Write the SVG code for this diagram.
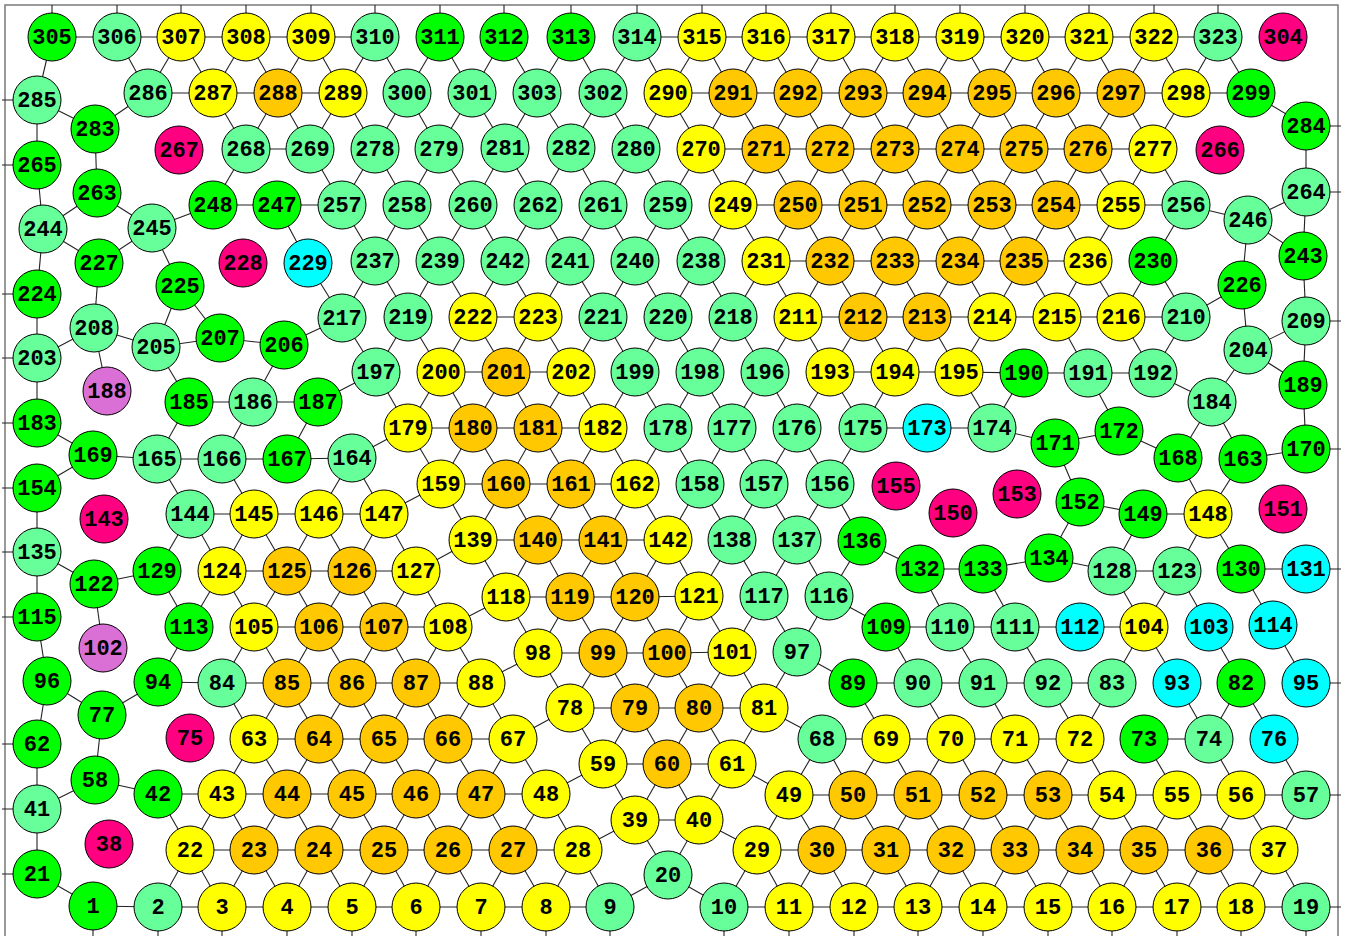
<svg xmlns="http://www.w3.org/2000/svg" width="1345" height="936" viewBox="0 0 1345 936">
<style>
#nodes circle{stroke:#000;stroke-width:1}
.G circle{fill:#00ff00}.L circle{fill:#66ff99}.Y circle{fill:#ffff00}.O circle{fill:#ffc800}.M circle{fill:#ff0080}.C circle{fill:#00ffff}.P circle{fill:#da70d6}
#nodes text{font-family:"Liberation Mono","Courier New",monospace;font-weight:bold;font-size:22px;text-anchor:middle;fill:#000}
#edges path{stroke:#222;stroke-width:1.1;fill:none}
#frame{stroke:#7a7a7a;stroke-width:1.5;fill:none}
</style>
<rect width="1345" height="936" fill="#fff"/>
<path id="frame" d="M5 940V5H1338V940"/>
<g id="edges">
<path d="M52 5L52 37"/><path d="M117 5L117 37"/><path d="M181 5L181 37"/><path d="M246 5L246 37"/><path d="M311 5L311 37"/><path d="M375 5L375 37"/><path d="M440 5L440 37"/><path d="M504 5L504 37"/><path d="M571 5L571 37"/><path d="M637 5L637 37"/><path d="M702 5L702 37"/><path d="M766 5L766 37"/><path d="M831 5L831 37"/><path d="M895 5L895 37"/><path d="M960 5L960 37"/><path d="M1025 5L1025 37"/><path d="M1089 5L1089 37"/><path d="M1154 5L1154 37"/><path d="M1218 5L1218 37"/>
<path d="M2 100L37 100"/><path d="M2 165L37 165"/><path d="M2 294L37 294"/><path d="M2 358L37 358"/><path d="M2 423L37 423"/><path d="M2 488L37 488"/><path d="M2 552L37 552"/><path d="M2 617L37 617"/><path d="M2 744L37 744"/><path d="M2 809L37 809"/><path d="M2 874L37 874"/>
<path d="M1306 126L1341 126"/><path d="M1306 192L1341 192"/><path d="M1306 321L1341 321"/><path d="M1306 449L1341 449"/><path d="M1306 569L1341 569"/><path d="M1306 683L1341 683"/><path d="M1306 795L1341 795"/><path d="M1306 907L1341 907"/>
<path d="M93 906L93 936"/><path d="M158 907L158 936"/><path d="M222 907L222 936"/><path d="M287 907L287 936"/><path d="M352 907L352 936"/><path d="M416 907L416 936"/><path d="M481 907L481 936"/><path d="M546 907L546 936"/><path d="M610 907L610 936"/><path d="M724 907L724 936"/><path d="M789 907L789 936"/><path d="M854 907L854 936"/><path d="M918 907L918 936"/><path d="M983 907L983 936"/><path d="M1048 907L1048 936"/><path d="M1112 907L1112 936"/><path d="M1177 907L1177 936"/><path d="M1241 907L1241 936"/><path d="M1306 907L1306 936"/>
<path d="M52 37L117 37"/><path d="M117 37L181 37"/><path d="M181 37L246 37"/><path d="M246 37L311 37"/><path d="M311 37L375 37"/><path d="M637 37L702 37"/><path d="M702 37L766 37"/><path d="M766 37L831 37"/><path d="M831 37L895 37"/><path d="M895 37L960 37"/><path d="M960 37L1025 37"/><path d="M1025 37L1089 37"/><path d="M1089 37L1154 37"/><path d="M1154 37L1218 37"/>
<path d="M52 37L37 100"/><path d="M117 37L148 93"/><path d="M181 37L148 93"/><path d="M181 37L213 93"/><path d="M246 37L213 93"/><path d="M246 37L278 93"/><path d="M311 37L278 93"/><path d="M311 37L343 93"/><path d="M375 37L343 93"/><path d="M375 37L407 93"/><path d="M440 37L407 93"/><path d="M440 37L472 93"/><path d="M504 37L472 93"/><path d="M504 37L537 93"/><path d="M571 37L537 93"/><path d="M571 37L603 93"/><path d="M637 37L603 93"/><path d="M637 37L668 93"/><path d="M702 37L668 93"/><path d="M702 37L733 93"/><path d="M766 37L733 93"/><path d="M766 37L798 93"/><path d="M831 37L798 93"/><path d="M831 37L863 93"/><path d="M895 37L863 93"/><path d="M895 37L927 93"/><path d="M960 37L927 93"/><path d="M960 37L992 93"/><path d="M1025 37L992 93"/><path d="M1025 37L1056 93"/><path d="M1089 37L1056 93"/><path d="M1089 37L1121 93"/><path d="M1154 37L1121 93"/><path d="M1154 37L1186 93"/><path d="M1218 37L1186 93"/><path d="M1218 37L1251 93"/>
<path d="M148 93L213 93"/><path d="M213 93L278 93"/><path d="M278 93L343 93"/><path d="M668 93L733 93"/><path d="M733 93L798 93"/><path d="M798 93L863 93"/><path d="M863 93L927 93"/><path d="M927 93L992 93"/><path d="M992 93L1056 93"/><path d="M1056 93L1121 93"/><path d="M1121 93L1186 93"/><path d="M1186 93L1251 93"/>
<path d="M37 100L95 129"/><path d="M148 93L95 129"/><path d="M37 100L37 165"/><path d="M95 129L97 193"/><path d="M1251 93L1306 126"/>
<path d="M213 93L246 149"/><path d="M278 93L246 149"/><path d="M278 93L310 149"/><path d="M343 93L310 149"/><path d="M343 93L375 149"/><path d="M407 93L375 149"/><path d="M407 93L439 149"/><path d="M472 93L439 149"/><path d="M472 93L505 148"/><path d="M537 93L505 148"/><path d="M537 93L571 148"/><path d="M603 93L571 148"/><path d="M603 93L636 149"/><path d="M668 93L636 149"/><path d="M668 93L701 149"/><path d="M733 93L701 149"/><path d="M733 93L766 149"/><path d="M798 93L766 149"/><path d="M798 93L830 149"/><path d="M863 93L830 149"/><path d="M863 93L895 149"/><path d="M927 93L895 149"/><path d="M927 93L960 149"/><path d="M992 93L960 149"/><path d="M992 93L1024 149"/><path d="M1056 93L1024 149"/><path d="M1056 93L1088 149"/><path d="M1121 93L1088 149"/><path d="M1121 93L1153 149"/><path d="M1186 93L1153 149"/>
<path d="M246 149L310 149"/><path d="M701 149L766 149"/><path d="M766 149L830 149"/><path d="M830 149L895 149"/><path d="M895 149L960 149"/><path d="M960 149L1024 149"/><path d="M1024 149L1088 149"/><path d="M1088 149L1153 149"/>
<path d="M246 149L213 205"/><path d="M310 149L342 205"/><path d="M375 149L342 205"/><path d="M375 149L407 205"/><path d="M439 149L407 205"/><path d="M439 149L473 205"/><path d="M505 148L473 205"/><path d="M505 148L538 205"/><path d="M571 148L538 205"/><path d="M571 148L603 205"/><path d="M636 149L603 205"/><path d="M636 149L668 205"/><path d="M701 149L668 205"/><path d="M701 149L733 205"/><path d="M766 149L733 205"/><path d="M766 149L798 205"/><path d="M830 149L798 205"/><path d="M830 149L863 205"/><path d="M895 149L863 205"/><path d="M895 149L927 205"/><path d="M960 149L927 205"/><path d="M960 149L992 205"/><path d="M1024 149L992 205"/><path d="M1024 149L1056 205"/><path d="M1088 149L1056 205"/><path d="M1088 149L1121 205"/><path d="M1153 149L1121 205"/><path d="M1153 149L1186 205"/>
<path d="M37 165L43 229"/><path d="M97 193L43 229"/><path d="M97 193L152 228"/><path d="M152 228L213 205"/><path d="M43 229L99 263"/><path d="M43 229L37 294"/><path d="M152 228L99 263"/><path d="M152 228L180 286"/><path d="M99 263L94 328"/><path d="M37 294L37 358"/>
<path d="M213 205L277 205"/><path d="M277 205L342 205"/><path d="M733 205L798 205"/><path d="M798 205L863 205"/><path d="M863 205L927 205"/><path d="M927 205L992 205"/><path d="M992 205L1056 205"/><path d="M1056 205L1121 205"/><path d="M1121 205L1186 205"/><path d="M277 205L308 263"/>
<path d="M1306 126L1306 192"/><path d="M1186 205L1248 220"/><path d="M1306 192L1248 220"/><path d="M1248 220L1303 256"/><path d="M1306 192L1303 256"/><path d="M1248 220L1242 285"/><path d="M1303 256L1306 321"/><path d="M1242 285L1186 317"/><path d="M1242 285L1248 350"/>
<path d="M342 205L375 261"/><path d="M407 205L375 261"/><path d="M407 205L440 261"/><path d="M473 205L440 261"/><path d="M473 205L505 261"/><path d="M538 205L505 261"/><path d="M538 205L570 261"/><path d="M603 205L570 261"/><path d="M603 205L635 261"/><path d="M668 205L635 261"/><path d="M668 205L701 261"/><path d="M733 205L701 261"/><path d="M733 205L766 261"/><path d="M798 205L766 261"/><path d="M798 205L830 261"/><path d="M863 205L830 261"/><path d="M863 205L895 261"/><path d="M927 205L895 261"/><path d="M927 205L960 261"/><path d="M992 205L960 261"/><path d="M992 205L1024 261"/><path d="M1056 205L1024 261"/><path d="M1056 205L1088 261"/><path d="M1121 205L1088 261"/><path d="M1186 205L1153 261"/>
<path d="M766 261L830 261"/><path d="M830 261L895 261"/><path d="M895 261L960 261"/><path d="M960 261L1024 261"/><path d="M1024 261L1088 261"/>
<path d="M308 263L342 318"/><path d="M375 261L342 318"/><path d="M375 261L408 317"/><path d="M440 261L408 317"/><path d="M440 261L473 317"/><path d="M505 261L473 317"/><path d="M505 261L538 317"/><path d="M570 261L538 317"/><path d="M570 261L603 317"/><path d="M635 261L603 317"/><path d="M635 261L668 317"/><path d="M701 261L668 317"/><path d="M701 261L733 317"/><path d="M766 261L733 317"/><path d="M766 261L798 317"/><path d="M830 261L798 317"/><path d="M830 261L863 317"/><path d="M895 261L863 317"/><path d="M895 261L927 317"/><path d="M960 261L927 317"/><path d="M960 261L992 317"/><path d="M1024 261L992 317"/><path d="M1024 261L1057 317"/><path d="M1088 261L1057 317"/><path d="M1088 261L1121 317"/><path d="M1153 261L1121 317"/><path d="M1153 261L1186 317"/>
<path d="M473 317L538 317"/><path d="M798 317L863 317"/><path d="M863 317L927 317"/><path d="M927 317L992 317"/><path d="M992 317L1057 317"/><path d="M1057 317L1121 317"/><path d="M1121 317L1186 317"/>
<path d="M180 286L156 347"/><path d="M180 286L220 338"/><path d="M94 328L37 358"/><path d="M94 328L156 347"/><path d="M94 328L107 391"/><path d="M156 347L220 338"/><path d="M220 338L284 345"/><path d="M284 345L342 318"/><path d="M156 347L189 402"/><path d="M284 345L253 402"/><path d="M37 358L37 423"/><path d="M37 423L93 455"/><path d="M93 455L37 488"/><path d="M93 455L157 459"/>
<path d="M1306 321L1248 350"/><path d="M1248 350L1303 385"/><path d="M1306 321L1303 385"/><path d="M1248 350L1212 402"/><path d="M1303 385L1306 449"/><path d="M1186 317L1153 373"/><path d="M1057 317L1088 373"/><path d="M1121 317L1153 373"/><path d="M1024 373L1088 373"/><path d="M1088 373L1153 373"/><path d="M1153 373L1212 402"/><path d="M1024 373L992 428"/><path d="M992 428L1055 443"/><path d="M1088 373L1119 431"/><path d="M1055 443L1119 431"/><path d="M1119 431L1178 458"/><path d="M1212 402L1178 458"/><path d="M1212 402L1243 459"/><path d="M1243 459L1306 449"/><path d="M1055 443L1080 502"/><path d="M1178 458L1208 514"/><path d="M1243 459L1208 514"/><path d="M1080 502L1143 514"/><path d="M1143 514L1208 514"/><path d="M1080 502L1049 558"/><path d="M1143 514L1112 571"/><path d="M1208 514L1177 571"/><path d="M1208 514L1241 569"/><path d="M1049 558L1112 571"/><path d="M1112 571L1177 571"/><path d="M1241 569L1306 569"/><path d="M1112 571L1144 627"/><path d="M1177 571L1144 627"/><path d="M1177 571L1209 627"/><path d="M1241 569L1273 625"/><path d="M983 569L1049 558"/>
<path d="M342 318L376 372"/><path d="M408 317L376 372"/><path d="M408 317L441 372"/><path d="M473 317L441 372"/><path d="M473 317L506 372"/><path d="M538 317L506 372"/><path d="M538 317L571 372"/><path d="M603 317L571 372"/><path d="M603 317L635 372"/><path d="M668 317L635 372"/><path d="M668 317L700 372"/><path d="M733 317L700 372"/><path d="M733 317L765 372"/><path d="M798 317L765 372"/><path d="M798 317L830 372"/><path d="M863 317L830 372"/><path d="M863 317L895 372"/><path d="M927 317L895 372"/><path d="M927 317L959 372"/><path d="M992 317L959 372"/>
<path d="M441 372L506 372"/><path d="M506 372L571 372"/><path d="M830 372L895 372"/><path d="M895 372L959 372"/><path d="M959 372L1024 373"/><path d="M318 402L376 372"/>
<path d="M376 372L408 428"/><path d="M441 372L408 428"/><path d="M441 372L473 428"/><path d="M506 372L473 428"/><path d="M506 372L538 428"/><path d="M571 372L538 428"/><path d="M571 372L603 428"/><path d="M635 372L603 428"/><path d="M635 372L668 428"/><path d="M700 372L668 428"/><path d="M700 372L732 428"/><path d="M765 372L732 428"/><path d="M765 372L797 428"/><path d="M830 372L797 428"/><path d="M830 372L863 428"/><path d="M895 372L863 428"/><path d="M959 372L992 428"/>
<path d="M408 428L473 428"/><path d="M473 428L538 428"/><path d="M538 428L603 428"/><path d="M863 428L927 428"/><path d="M927 428L992 428"/><path d="M189 402L253 402"/><path d="M253 402L318 402"/><path d="M189 402L157 459"/><path d="M253 402L222 459"/><path d="M318 402L287 459"/><path d="M157 459L222 459"/><path d="M222 459L287 459"/><path d="M287 459L352 458"/>
<path d="M408 428L352 458"/><path d="M408 428L441 484"/><path d="M473 428L441 484"/><path d="M473 428L506 484"/><path d="M538 428L506 484"/><path d="M538 428L571 484"/><path d="M603 428L571 484"/><path d="M603 428L635 484"/><path d="M668 428L635 484"/><path d="M668 428L700 484"/><path d="M732 428L700 484"/><path d="M732 428L764 484"/><path d="M797 428L764 484"/><path d="M797 428L830 484"/><path d="M863 428L830 484"/>
<path d="M441 484L506 484"/><path d="M506 484L571 484"/><path d="M571 484L635 484"/>
<path d="M157 459L190 514"/><path d="M222 459L254 514"/><path d="M352 458L319 514"/><path d="M352 458L384 514"/><path d="M441 484L384 514"/><path d="M441 484L473 540"/><path d="M506 484L473 540"/><path d="M506 484L538 540"/><path d="M571 484L538 540"/><path d="M571 484L603 540"/><path d="M635 484L603 540"/><path d="M635 484L668 540"/><path d="M700 484L668 540"/><path d="M700 484L732 540"/><path d="M764 484L732 540"/><path d="M764 484L797 540"/><path d="M830 484L797 540"/><path d="M830 484L862 541"/>
<path d="M190 514L254 514"/><path d="M254 514L319 514"/><path d="M319 514L384 514"/><path d="M37 488L37 552"/><path d="M37 552L94 584"/><path d="M37 552L37 617"/><path d="M190 514L157 571"/><path d="M190 514L222 571"/><path d="M254 514L222 571"/><path d="M254 514L287 571"/><path d="M319 514L287 571"/><path d="M319 514L352 571"/><path d="M384 514L352 571"/><path d="M384 514L416 571"/><path d="M222 571L287 571"/><path d="M287 571L352 571"/><path d="M352 571L416 571"/><path d="M157 571L94 584"/><path d="M416 571L473 540"/><path d="M473 540L538 540"/><path d="M538 540L603 540"/><path d="M603 540L668 540"/><path d="M862 541L920 569"/><path d="M920 569L983 569"/>
<path d="M157 571L189 627"/><path d="M222 571L189 627"/><path d="M222 571L254 627"/><path d="M287 571L254 627"/><path d="M287 571L319 627"/><path d="M352 571L319 627"/><path d="M352 571L384 627"/><path d="M416 571L384 627"/><path d="M416 571L448 627"/><path d="M473 540L506 597"/><path d="M538 540L506 597"/><path d="M538 540L570 597"/><path d="M603 540L570 597"/><path d="M603 540L635 597"/><path d="M668 540L635 597"/><path d="M668 540L699 596"/><path d="M732 540L699 596"/><path d="M732 540L764 596"/><path d="M797 540L764 596"/><path d="M797 540L829 596"/><path d="M862 541L829 596"/><path d="M920 569L950 627"/><path d="M983 569L1015 627"/><path d="M94 584L103 648"/>
<path d="M254 627L319 627"/><path d="M319 627L384 627"/><path d="M384 627L448 627"/><path d="M448 627L506 597"/><path d="M506 597L570 597"/><path d="M570 597L635 597"/><path d="M635 597L699 596"/><path d="M886 627L950 627"/><path d="M950 627L1015 627"/><path d="M1015 627L1080 627"/><path d="M1080 627L1144 627"/><path d="M829 596L886 627"/>
<path d="M37 617L47 681"/><path d="M47 681L102 715"/><path d="M47 681L37 744"/><path d="M102 715L158 682"/><path d="M102 715L95 780"/><path d="M158 682L189 627"/><path d="M158 682L222 683"/><path d="M222 683L254 627"/><path d="M287 683L254 627"/><path d="M287 683L319 627"/><path d="M352 683L319 627"/><path d="M352 683L384 627"/><path d="M416 683L384 627"/><path d="M416 683L448 627"/><path d="M481 683L448 627"/><path d="M481 683L538 653"/><path d="M506 597L538 653"/><path d="M570 597L538 653"/><path d="M570 597L603 653"/><path d="M635 597L603 653"/><path d="M635 597L667 653"/><path d="M699 596L667 653"/><path d="M699 596L732 652"/><path d="M764 596L732 652"/><path d="M764 596L797 652"/><path d="M829 596L797 652"/><path d="M886 627L918 683"/><path d="M950 627L983 683"/><path d="M1015 627L1048 683"/><path d="M1144 627L1112 683"/><path d="M1144 627L1177 683"/><path d="M1209 627L1241 683"/><path d="M1273 625L1306 683"/>
<path d="M222 683L287 683"/><path d="M287 683L352 683"/><path d="M352 683L416 683"/><path d="M416 683L481 683"/><path d="M538 653L603 653"/><path d="M603 653L667 653"/><path d="M667 653L732 652"/><path d="M853 683L918 683"/><path d="M918 683L983 683"/><path d="M983 683L1048 683"/><path d="M1048 683L1112 683"/><path d="M797 652L853 683"/>
<path d="M222 683L254 739"/><path d="M287 683L254 739"/><path d="M287 683L319 739"/><path d="M352 683L319 739"/><path d="M352 683L384 739"/><path d="M416 683L384 739"/><path d="M416 683L448 739"/><path d="M481 683L448 739"/><path d="M481 683L513 739"/><path d="M538 653L570 708"/><path d="M603 653L570 708"/><path d="M603 653L635 708"/><path d="M667 653L635 708"/><path d="M667 653L699 708"/><path d="M732 652L699 708"/><path d="M732 652L764 708"/><path d="M797 652L764 708"/><path d="M853 683L886 739"/><path d="M918 683L951 739"/><path d="M983 683L1015 739"/><path d="M1048 683L1080 739"/><path d="M1112 683L1080 739"/><path d="M1177 683L1209 739"/><path d="M1241 683L1209 739"/><path d="M1241 683L1274 739"/>
<path d="M254 739L319 739"/><path d="M319 739L384 739"/><path d="M384 739L448 739"/><path d="M448 739L513 739"/><path d="M513 739L570 708"/><path d="M570 708L635 708"/><path d="M635 708L699 708"/><path d="M699 708L764 708"/><path d="M764 708L822 739"/><path d="M822 739L886 739"/><path d="M886 739L951 739"/><path d="M951 739L1015 739"/><path d="M1015 739L1080 739"/><path d="M1144 739L1209 739"/><path d="M37 744L37 809"/><path d="M95 780L37 809"/><path d="M95 780L158 794"/>
<path d="M254 739L222 794"/><path d="M254 739L287 794"/><path d="M319 739L287 794"/><path d="M319 739L352 794"/><path d="M384 739L352 794"/><path d="M384 739L416 794"/><path d="M448 739L416 794"/><path d="M448 739L481 794"/><path d="M513 739L481 794"/><path d="M513 739L546 794"/><path d="M570 708L603 764"/><path d="M635 708L603 764"/><path d="M635 708L667 764"/><path d="M699 708L667 764"/><path d="M699 708L732 764"/><path d="M764 708L732 764"/><path d="M822 739L789 795"/><path d="M822 739L853 795"/><path d="M886 739L853 795"/><path d="M886 739L918 795"/><path d="M951 739L918 795"/><path d="M951 739L983 795"/><path d="M1015 739L983 795"/><path d="M1015 739L1048 795"/><path d="M1080 739L1048 795"/><path d="M1080 739L1112 795"/><path d="M1144 739L1177 795"/><path d="M1209 739L1241 795"/><path d="M1274 739L1306 795"/>
<path d="M158 794L222 794"/><path d="M222 794L287 794"/><path d="M287 794L352 794"/><path d="M352 794L416 794"/><path d="M416 794L481 794"/><path d="M481 794L546 794"/><path d="M546 794L603 764"/><path d="M603 764L667 764"/><path d="M667 764L732 764"/><path d="M732 764L789 795"/><path d="M789 795L853 795"/><path d="M853 795L918 795"/><path d="M918 795L983 795"/><path d="M983 795L1048 795"/><path d="M1048 795L1112 795"/><path d="M1112 795L1177 795"/><path d="M1177 795L1241 795"/><path d="M1241 795L1306 795"/>
<path d="M37 809L37 874"/><path d="M158 794L190 850"/><path d="M222 794L190 850"/><path d="M222 794L254 850"/><path d="M287 794L254 850"/><path d="M287 794L319 850"/><path d="M352 794L319 850"/><path d="M352 794L384 850"/><path d="M416 794L384 850"/><path d="M416 794L448 850"/><path d="M481 794L448 850"/><path d="M481 794L513 850"/><path d="M546 794L513 850"/><path d="M546 794L578 850"/><path d="M603 764L635 820"/><path d="M667 764L635 820"/><path d="M667 764L699 820"/><path d="M732 764L699 820"/><path d="M789 795L757 850"/><path d="M789 795L822 850"/><path d="M853 795L822 850"/><path d="M853 795L886 850"/><path d="M918 795L886 850"/><path d="M918 795L951 850"/><path d="M983 795L951 850"/><path d="M983 795L1015 850"/><path d="M1048 795L1015 850"/><path d="M1048 795L1080 850"/><path d="M1112 795L1080 850"/><path d="M1112 795L1144 850"/><path d="M1177 795L1144 850"/><path d="M1177 795L1209 850"/><path d="M1241 795L1209 850"/><path d="M1241 795L1274 850"/><path d="M1306 795L1274 850"/>
<path d="M190 850L254 850"/><path d="M254 850L319 850"/><path d="M319 850L384 850"/><path d="M384 850L448 850"/><path d="M448 850L513 850"/><path d="M513 850L578 850"/><path d="M578 850L635 820"/><path d="M635 820L699 820"/><path d="M699 820L757 850"/><path d="M757 850L822 850"/><path d="M822 850L886 850"/><path d="M886 850L951 850"/><path d="M951 850L1015 850"/><path d="M1015 850L1080 850"/><path d="M1080 850L1144 850"/><path d="M1144 850L1209 850"/><path d="M1209 850L1274 850"/>
<path d="M37 874L93 906"/><path d="M190 850L158 907"/><path d="M190 850L222 907"/><path d="M254 850L222 907"/><path d="M254 850L287 907"/><path d="M319 850L287 907"/><path d="M319 850L352 907"/><path d="M384 850L352 907"/><path d="M384 850L416 907"/><path d="M448 850L416 907"/><path d="M448 850L481 907"/><path d="M513 850L481 907"/><path d="M513 850L546 907"/><path d="M578 850L546 907"/><path d="M578 850L610 907"/><path d="M635 820L668 875"/><path d="M699 820L668 875"/><path d="M668 875L610 907"/><path d="M668 875L724 907"/><path d="M757 850L724 907"/><path d="M757 850L789 907"/><path d="M822 850L789 907"/><path d="M822 850L854 907"/><path d="M886 850L854 907"/><path d="M886 850L918 907"/><path d="M951 850L918 907"/><path d="M951 850L983 907"/><path d="M1015 850L983 907"/><path d="M1015 850L1048 907"/><path d="M1080 850L1048 907"/><path d="M1080 850L1112 907"/><path d="M1144 850L1112 907"/><path d="M1144 850L1177 907"/><path d="M1209 850L1177 907"/><path d="M1209 850L1241 907"/><path d="M1274 850L1241 907"/><path d="M1274 850L1306 907"/>
<path d="M93 906L158 907"/><path d="M158 907L222 907"/><path d="M222 907L287 907"/><path d="M287 907L352 907"/><path d="M352 907L416 907"/><path d="M416 907L481 907"/><path d="M481 907L546 907"/><path d="M546 907L610 907"/><path d="M724 907L789 907"/><path d="M789 907L854 907"/><path d="M854 907L918 907"/><path d="M918 907L983 907"/><path d="M983 907L1048 907"/><path d="M1048 907L1112 907"/><path d="M1112 907L1177 907"/><path d="M1177 907L1241 907"/><path d="M1241 907L1306 907"/>
</g>
<g id="nodes">
<g id="n1" class="G" transform="translate(93 906)"><circle r="24"/><text y="7">1</text></g>
<g id="n2" class="L" transform="translate(158 907)"><circle r="24"/><text y="7">2</text></g>
<g id="n3" class="Y" transform="translate(222 907)"><circle r="24"/><text y="7">3</text></g>
<g id="n4" class="Y" transform="translate(287 907)"><circle r="24"/><text y="7">4</text></g>
<g id="n5" class="Y" transform="translate(352 907)"><circle r="24"/><text y="7">5</text></g>
<g id="n6" class="Y" transform="translate(416 907)"><circle r="24"/><text y="7">6</text></g>
<g id="n7" class="Y" transform="translate(481 907)"><circle r="24"/><text y="7">7</text></g>
<g id="n8" class="Y" transform="translate(546 907)"><circle r="24"/><text y="7">8</text></g>
<g id="n9" class="L" transform="translate(610 907)"><circle r="24"/><text y="7">9</text></g>
<g id="n10" class="L" transform="translate(724 907)"><circle r="24"/><text y="7">10</text></g>
<g id="n11" class="Y" transform="translate(789 907)"><circle r="24"/><text y="7">11</text></g>
<g id="n12" class="Y" transform="translate(854 907)"><circle r="24"/><text y="7">12</text></g>
<g id="n13" class="Y" transform="translate(918 907)"><circle r="24"/><text y="7">13</text></g>
<g id="n14" class="Y" transform="translate(983 907)"><circle r="24"/><text y="7">14</text></g>
<g id="n15" class="Y" transform="translate(1048 907)"><circle r="24"/><text y="7">15</text></g>
<g id="n16" class="Y" transform="translate(1112 907)"><circle r="24"/><text y="7">16</text></g>
<g id="n17" class="Y" transform="translate(1177 907)"><circle r="24"/><text y="7">17</text></g>
<g id="n18" class="Y" transform="translate(1241 907)"><circle r="24"/><text y="7">18</text></g>
<g id="n19" class="L" transform="translate(1306 907)"><circle r="24"/><text y="7">19</text></g>
<g id="n20" class="L" transform="translate(668 875)"><circle r="24"/><text y="7">20</text></g>
<g id="n21" class="G" transform="translate(37 874)"><circle r="24"/><text y="7">21</text></g>
<g id="n22" class="Y" transform="translate(190 850)"><circle r="24"/><text y="7">22</text></g>
<g id="n23" class="O" transform="translate(254 850)"><circle r="24"/><text y="7">23</text></g>
<g id="n24" class="O" transform="translate(319 850)"><circle r="24"/><text y="7">24</text></g>
<g id="n25" class="O" transform="translate(384 850)"><circle r="24"/><text y="7">25</text></g>
<g id="n26" class="O" transform="translate(448 850)"><circle r="24"/><text y="7">26</text></g>
<g id="n27" class="O" transform="translate(513 850)"><circle r="24"/><text y="7">27</text></g>
<g id="n28" class="Y" transform="translate(578 850)"><circle r="24"/><text y="7">28</text></g>
<g id="n29" class="Y" transform="translate(757 850)"><circle r="24"/><text y="7">29</text></g>
<g id="n30" class="O" transform="translate(822 850)"><circle r="24"/><text y="7">30</text></g>
<g id="n31" class="O" transform="translate(886 850)"><circle r="24"/><text y="7">31</text></g>
<g id="n32" class="O" transform="translate(951 850)"><circle r="24"/><text y="7">32</text></g>
<g id="n33" class="O" transform="translate(1015 850)"><circle r="24"/><text y="7">33</text></g>
<g id="n34" class="O" transform="translate(1080 850)"><circle r="24"/><text y="7">34</text></g>
<g id="n35" class="O" transform="translate(1144 850)"><circle r="24"/><text y="7">35</text></g>
<g id="n36" class="O" transform="translate(1209 850)"><circle r="24"/><text y="7">36</text></g>
<g id="n37" class="Y" transform="translate(1274 850)"><circle r="24"/><text y="7">37</text></g>
<g id="n38" class="M" transform="translate(109 844)"><circle r="24"/><text y="7">38</text></g>
<g id="n39" class="Y" transform="translate(635 820)"><circle r="24"/><text y="7">39</text></g>
<g id="n40" class="Y" transform="translate(699 820)"><circle r="24"/><text y="7">40</text></g>
<g id="n41" class="L" transform="translate(37 809)"><circle r="24"/><text y="7">41</text></g>
<g id="n42" class="G" transform="translate(158 794)"><circle r="24"/><text y="7">42</text></g>
<g id="n43" class="Y" transform="translate(222 794)"><circle r="24"/><text y="7">43</text></g>
<g id="n44" class="O" transform="translate(287 794)"><circle r="24"/><text y="7">44</text></g>
<g id="n45" class="O" transform="translate(352 794)"><circle r="24"/><text y="7">45</text></g>
<g id="n46" class="O" transform="translate(416 794)"><circle r="24"/><text y="7">46</text></g>
<g id="n47" class="O" transform="translate(481 794)"><circle r="24"/><text y="7">47</text></g>
<g id="n48" class="Y" transform="translate(546 794)"><circle r="24"/><text y="7">48</text></g>
<g id="n49" class="Y" transform="translate(789 795)"><circle r="24"/><text y="7">49</text></g>
<g id="n50" class="O" transform="translate(853 795)"><circle r="24"/><text y="7">50</text></g>
<g id="n51" class="O" transform="translate(918 795)"><circle r="24"/><text y="7">51</text></g>
<g id="n52" class="O" transform="translate(983 795)"><circle r="24"/><text y="7">52</text></g>
<g id="n53" class="O" transform="translate(1048 795)"><circle r="24"/><text y="7">53</text></g>
<g id="n54" class="Y" transform="translate(1112 795)"><circle r="24"/><text y="7">54</text></g>
<g id="n55" class="Y" transform="translate(1177 795)"><circle r="24"/><text y="7">55</text></g>
<g id="n56" class="Y" transform="translate(1241 795)"><circle r="24"/><text y="7">56</text></g>
<g id="n57" class="L" transform="translate(1306 795)"><circle r="24"/><text y="7">57</text></g>
<g id="n58" class="G" transform="translate(95 780)"><circle r="24"/><text y="7">58</text></g>
<g id="n59" class="Y" transform="translate(603 764)"><circle r="24"/><text y="7">59</text></g>
<g id="n60" class="O" transform="translate(667 764)"><circle r="24"/><text y="7">60</text></g>
<g id="n61" class="Y" transform="translate(732 764)"><circle r="24"/><text y="7">61</text></g>
<g id="n62" class="G" transform="translate(37 744)"><circle r="24"/><text y="7">62</text></g>
<g id="n63" class="Y" transform="translate(254 739)"><circle r="24"/><text y="7">63</text></g>
<g id="n64" class="O" transform="translate(319 739)"><circle r="24"/><text y="7">64</text></g>
<g id="n65" class="O" transform="translate(384 739)"><circle r="24"/><text y="7">65</text></g>
<g id="n66" class="O" transform="translate(448 739)"><circle r="24"/><text y="7">66</text></g>
<g id="n67" class="Y" transform="translate(513 739)"><circle r="24"/><text y="7">67</text></g>
<g id="n68" class="L" transform="translate(822 739)"><circle r="24"/><text y="7">68</text></g>
<g id="n69" class="Y" transform="translate(886 739)"><circle r="24"/><text y="7">69</text></g>
<g id="n70" class="Y" transform="translate(951 739)"><circle r="24"/><text y="7">70</text></g>
<g id="n71" class="Y" transform="translate(1015 739)"><circle r="24"/><text y="7">71</text></g>
<g id="n72" class="Y" transform="translate(1080 739)"><circle r="24"/><text y="7">72</text></g>
<g id="n73" class="G" transform="translate(1144 739)"><circle r="24"/><text y="7">73</text></g>
<g id="n74" class="L" transform="translate(1209 739)"><circle r="24"/><text y="7">74</text></g>
<g id="n75" class="M" transform="translate(190 738)"><circle r="24"/><text y="7">75</text></g>
<g id="n76" class="C" transform="translate(1274 739)"><circle r="24"/><text y="7">76</text></g>
<g id="n77" class="G" transform="translate(102 715)"><circle r="24"/><text y="7">77</text></g>
<g id="n78" class="Y" transform="translate(570 708)"><circle r="24"/><text y="7">78</text></g>
<g id="n79" class="O" transform="translate(635 708)"><circle r="24"/><text y="7">79</text></g>
<g id="n80" class="O" transform="translate(699 708)"><circle r="24"/><text y="7">80</text></g>
<g id="n81" class="Y" transform="translate(764 708)"><circle r="24"/><text y="7">81</text></g>
<g id="n82" class="G" transform="translate(1241 683)"><circle r="24"/><text y="7">82</text></g>
<g id="n83" class="L" transform="translate(1112 683)"><circle r="24"/><text y="7">83</text></g>
<g id="n84" class="L" transform="translate(222 683)"><circle r="24"/><text y="7">84</text></g>
<g id="n85" class="O" transform="translate(287 683)"><circle r="24"/><text y="7">85</text></g>
<g id="n86" class="O" transform="translate(352 683)"><circle r="24"/><text y="7">86</text></g>
<g id="n87" class="O" transform="translate(416 683)"><circle r="24"/><text y="7">87</text></g>
<g id="n88" class="Y" transform="translate(481 683)"><circle r="24"/><text y="7">88</text></g>
<g id="n89" class="G" transform="translate(853 683)"><circle r="24"/><text y="7">89</text></g>
<g id="n90" class="L" transform="translate(918 683)"><circle r="24"/><text y="7">90</text></g>
<g id="n91" class="L" transform="translate(983 683)"><circle r="24"/><text y="7">91</text></g>
<g id="n92" class="L" transform="translate(1048 683)"><circle r="24"/><text y="7">92</text></g>
<g id="n93" class="C" transform="translate(1177 683)"><circle r="24"/><text y="7">93</text></g>
<g id="n94" class="G" transform="translate(158 682)"><circle r="24"/><text y="7">94</text></g>
<g id="n95" class="C" transform="translate(1306 683)"><circle r="24"/><text y="7">95</text></g>
<g id="n96" class="G" transform="translate(47 681)"><circle r="24"/><text y="7">96</text></g>
<g id="n97" class="L" transform="translate(797 652)"><circle r="24"/><text y="7">97</text></g>
<g id="n98" class="Y" transform="translate(538 653)"><circle r="24"/><text y="7">98</text></g>
<g id="n99" class="O" transform="translate(603 653)"><circle r="24"/><text y="7">99</text></g>
<g id="n100" class="O" transform="translate(667 653)"><circle r="24"/><text y="7">100</text></g>
<g id="n101" class="Y" transform="translate(732 652)"><circle r="24"/><text y="7">101</text></g>
<g id="n102" class="P" transform="translate(103 648)"><circle r="24"/><text y="7">102</text></g>
<g id="n103" class="C" transform="translate(1209 627)"><circle r="24"/><text y="7">103</text></g>
<g id="n104" class="Y" transform="translate(1144 627)"><circle r="24"/><text y="7">104</text></g>
<g id="n105" class="Y" transform="translate(254 627)"><circle r="24"/><text y="7">105</text></g>
<g id="n106" class="O" transform="translate(319 627)"><circle r="24"/><text y="7">106</text></g>
<g id="n107" class="O" transform="translate(384 627)"><circle r="24"/><text y="7">107</text></g>
<g id="n108" class="Y" transform="translate(448 627)"><circle r="24"/><text y="7">108</text></g>
<g id="n109" class="G" transform="translate(886 627)"><circle r="24"/><text y="7">109</text></g>
<g id="n110" class="L" transform="translate(950 627)"><circle r="24"/><text y="7">110</text></g>
<g id="n111" class="L" transform="translate(1015 627)"><circle r="24"/><text y="7">111</text></g>
<g id="n112" class="C" transform="translate(1080 627)"><circle r="24"/><text y="7">112</text></g>
<g id="n113" class="G" transform="translate(189 627)"><circle r="24"/><text y="7">113</text></g>
<g id="n114" class="C" transform="translate(1273 625)"><circle r="24"/><text y="7">114</text></g>
<g id="n115" class="G" transform="translate(37 617)"><circle r="24"/><text y="7">115</text></g>
<g id="n116" class="L" transform="translate(829 596)"><circle r="24"/><text y="7">116</text></g>
<g id="n117" class="L" transform="translate(764 596)"><circle r="24"/><text y="7">117</text></g>
<g id="n118" class="Y" transform="translate(506 597)"><circle r="24"/><text y="7">118</text></g>
<g id="n119" class="O" transform="translate(570 597)"><circle r="24"/><text y="7">119</text></g>
<g id="n120" class="O" transform="translate(635 597)"><circle r="24"/><text y="7">120</text></g>
<g id="n121" class="Y" transform="translate(699 596)"><circle r="24"/><text y="7">121</text></g>
<g id="n122" class="G" transform="translate(94 584)"><circle r="24"/><text y="7">122</text></g>
<g id="n123" class="L" transform="translate(1177 571)"><circle r="24"/><text y="7">123</text></g>
<g id="n124" class="Y" transform="translate(222 571)"><circle r="24"/><text y="7">124</text></g>
<g id="n125" class="O" transform="translate(287 571)"><circle r="24"/><text y="7">125</text></g>
<g id="n126" class="O" transform="translate(352 571)"><circle r="24"/><text y="7">126</text></g>
<g id="n127" class="Y" transform="translate(416 571)"><circle r="24"/><text y="7">127</text></g>
<g id="n128" class="L" transform="translate(1112 571)"><circle r="24"/><text y="7">128</text></g>
<g id="n129" class="G" transform="translate(157 571)"><circle r="24"/><text y="7">129</text></g>
<g id="n130" class="G" transform="translate(1241 569)"><circle r="24"/><text y="7">130</text></g>
<g id="n131" class="C" transform="translate(1306 569)"><circle r="24"/><text y="7">131</text></g>
<g id="n132" class="G" transform="translate(920 569)"><circle r="24"/><text y="7">132</text></g>
<g id="n133" class="G" transform="translate(983 569)"><circle r="24"/><text y="7">133</text></g>
<g id="n134" class="G" transform="translate(1049 558)"><circle r="24"/><text y="7">134</text></g>
<g id="n135" class="L" transform="translate(37 552)"><circle r="24"/><text y="7">135</text></g>
<g id="n136" class="G" transform="translate(862 541)"><circle r="24"/><text y="7">136</text></g>
<g id="n137" class="L" transform="translate(797 540)"><circle r="24"/><text y="7">137</text></g>
<g id="n138" class="L" transform="translate(732 540)"><circle r="24"/><text y="7">138</text></g>
<g id="n139" class="Y" transform="translate(473 540)"><circle r="24"/><text y="7">139</text></g>
<g id="n140" class="O" transform="translate(538 540)"><circle r="24"/><text y="7">140</text></g>
<g id="n141" class="O" transform="translate(603 540)"><circle r="24"/><text y="7">141</text></g>
<g id="n142" class="Y" transform="translate(668 540)"><circle r="24"/><text y="7">142</text></g>
<g id="n143" class="M" transform="translate(104 519)"><circle r="24"/><text y="7">143</text></g>
<g id="n144" class="L" transform="translate(190 514)"><circle r="24"/><text y="7">144</text></g>
<g id="n145" class="Y" transform="translate(254 514)"><circle r="24"/><text y="7">145</text></g>
<g id="n146" class="Y" transform="translate(319 514)"><circle r="24"/><text y="7">146</text></g>
<g id="n147" class="Y" transform="translate(384 514)"><circle r="24"/><text y="7">147</text></g>
<g id="n148" class="Y" transform="translate(1208 514)"><circle r="24"/><text y="7">148</text></g>
<g id="n149" class="G" transform="translate(1143 514)"><circle r="24"/><text y="7">149</text></g>
<g id="n150" class="M" transform="translate(953 513)"><circle r="24"/><text y="7">150</text></g>
<g id="n151" class="M" transform="translate(1283 509)"><circle r="24"/><text y="7">151</text></g>
<g id="n152" class="G" transform="translate(1080 502)"><circle r="24"/><text y="7">152</text></g>
<g id="n153" class="M" transform="translate(1017 494)"><circle r="24"/><text y="7">153</text></g>
<g id="n154" class="G" transform="translate(37 488)"><circle r="24"/><text y="7">154</text></g>
<g id="n155" class="M" transform="translate(896 486)"><circle r="24"/><text y="7">155</text></g>
<g id="n156" class="L" transform="translate(830 484)"><circle r="24"/><text y="7">156</text></g>
<g id="n157" class="L" transform="translate(764 484)"><circle r="24"/><text y="7">157</text></g>
<g id="n158" class="L" transform="translate(700 484)"><circle r="24"/><text y="7">158</text></g>
<g id="n159" class="Y" transform="translate(441 484)"><circle r="24"/><text y="7">159</text></g>
<g id="n160" class="O" transform="translate(506 484)"><circle r="24"/><text y="7">160</text></g>
<g id="n161" class="O" transform="translate(571 484)"><circle r="24"/><text y="7">161</text></g>
<g id="n162" class="Y" transform="translate(635 484)"><circle r="24"/><text y="7">162</text></g>
<g id="n163" class="G" transform="translate(1243 459)"><circle r="24"/><text y="7">163</text></g>
<g id="n164" class="L" transform="translate(352 458)"><circle r="24"/><text y="7">164</text></g>
<g id="n165" class="L" transform="translate(157 459)"><circle r="24"/><text y="7">165</text></g>
<g id="n166" class="L" transform="translate(222 459)"><circle r="24"/><text y="7">166</text></g>
<g id="n167" class="G" transform="translate(287 459)"><circle r="24"/><text y="7">167</text></g>
<g id="n168" class="G" transform="translate(1178 458)"><circle r="24"/><text y="7">168</text></g>
<g id="n169" class="G" transform="translate(93 455)"><circle r="24"/><text y="7">169</text></g>
<g id="n170" class="G" transform="translate(1306 449)"><circle r="24"/><text y="7">170</text></g>
<g id="n171" class="G" transform="translate(1055 443)"><circle r="24"/><text y="7">171</text></g>
<g id="n172" class="G" transform="translate(1119 431)"><circle r="24"/><text y="7">172</text></g>
<g id="n173" class="C" transform="translate(927 428)"><circle r="24"/><text y="7">173</text></g>
<g id="n174" class="L" transform="translate(992 428)"><circle r="24"/><text y="7">174</text></g>
<g id="n175" class="L" transform="translate(863 428)"><circle r="24"/><text y="7">175</text></g>
<g id="n176" class="L" transform="translate(797 428)"><circle r="24"/><text y="7">176</text></g>
<g id="n177" class="L" transform="translate(732 428)"><circle r="24"/><text y="7">177</text></g>
<g id="n178" class="L" transform="translate(668 428)"><circle r="24"/><text y="7">178</text></g>
<g id="n179" class="Y" transform="translate(408 428)"><circle r="24"/><text y="7">179</text></g>
<g id="n180" class="O" transform="translate(473 428)"><circle r="24"/><text y="7">180</text></g>
<g id="n181" class="O" transform="translate(538 428)"><circle r="24"/><text y="7">181</text></g>
<g id="n182" class="Y" transform="translate(603 428)"><circle r="24"/><text y="7">182</text></g>
<g id="n183" class="G" transform="translate(37 423)"><circle r="24"/><text y="7">183</text></g>
<g id="n184" class="L" transform="translate(1212 402)"><circle r="24"/><text y="7">184</text></g>
<g id="n185" class="G" transform="translate(189 402)"><circle r="24"/><text y="7">185</text></g>
<g id="n186" class="L" transform="translate(253 402)"><circle r="24"/><text y="7">186</text></g>
<g id="n187" class="G" transform="translate(318 402)"><circle r="24"/><text y="7">187</text></g>
<g id="n188" class="P" transform="translate(107 391)"><circle r="24"/><text y="7">188</text></g>
<g id="n189" class="G" transform="translate(1303 385)"><circle r="24"/><text y="7">189</text></g>
<g id="n190" class="G" transform="translate(1024 373)"><circle r="24"/><text y="7">190</text></g>
<g id="n191" class="L" transform="translate(1088 373)"><circle r="24"/><text y="7">191</text></g>
<g id="n192" class="L" transform="translate(1153 373)"><circle r="24"/><text y="7">192</text></g>
<g id="n193" class="Y" transform="translate(830 372)"><circle r="24"/><text y="7">193</text></g>
<g id="n194" class="Y" transform="translate(895 372)"><circle r="24"/><text y="7">194</text></g>
<g id="n195" class="Y" transform="translate(959 372)"><circle r="24"/><text y="7">195</text></g>
<g id="n196" class="L" transform="translate(765 372)"><circle r="24"/><text y="7">196</text></g>
<g id="n197" class="L" transform="translate(376 372)"><circle r="24"/><text y="7">197</text></g>
<g id="n198" class="L" transform="translate(700 372)"><circle r="24"/><text y="7">198</text></g>
<g id="n199" class="L" transform="translate(635 372)"><circle r="24"/><text y="7">199</text></g>
<g id="n200" class="Y" transform="translate(441 372)"><circle r="24"/><text y="7">200</text></g>
<g id="n201" class="O" transform="translate(506 372)"><circle r="24"/><text y="7">201</text></g>
<g id="n202" class="Y" transform="translate(571 372)"><circle r="24"/><text y="7">202</text></g>
<g id="n203" class="L" transform="translate(37 358)"><circle r="24"/><text y="7">203</text></g>
<g id="n204" class="L" transform="translate(1248 350)"><circle r="24"/><text y="7">204</text></g>
<g id="n205" class="L" transform="translate(156 347)"><circle r="24"/><text y="7">205</text></g>
<g id="n206" class="G" transform="translate(284 345)"><circle r="24"/><text y="7">206</text></g>
<g id="n207" class="G" transform="translate(220 338)"><circle r="24"/><text y="7">207</text></g>
<g id="n208" class="L" transform="translate(94 328)"><circle r="24"/><text y="7">208</text></g>
<g id="n209" class="L" transform="translate(1306 321)"><circle r="24"/><text y="7">209</text></g>
<g id="n210" class="L" transform="translate(1186 317)"><circle r="24"/><text y="7">210</text></g>
<g id="n211" class="Y" transform="translate(798 317)"><circle r="24"/><text y="7">211</text></g>
<g id="n212" class="O" transform="translate(863 317)"><circle r="24"/><text y="7">212</text></g>
<g id="n213" class="O" transform="translate(927 317)"><circle r="24"/><text y="7">213</text></g>
<g id="n214" class="Y" transform="translate(992 317)"><circle r="24"/><text y="7">214</text></g>
<g id="n215" class="Y" transform="translate(1057 317)"><circle r="24"/><text y="7">215</text></g>
<g id="n216" class="Y" transform="translate(1121 317)"><circle r="24"/><text y="7">216</text></g>
<g id="n217" class="L" transform="translate(342 318)"><circle r="24"/><text y="7">217</text></g>
<g id="n218" class="L" transform="translate(733 317)"><circle r="24"/><text y="7">218</text></g>
<g id="n219" class="L" transform="translate(408 317)"><circle r="24"/><text y="7">219</text></g>
<g id="n220" class="L" transform="translate(668 317)"><circle r="24"/><text y="7">220</text></g>
<g id="n221" class="L" transform="translate(603 317)"><circle r="24"/><text y="7">221</text></g>
<g id="n222" class="Y" transform="translate(473 317)"><circle r="24"/><text y="7">222</text></g>
<g id="n223" class="Y" transform="translate(538 317)"><circle r="24"/><text y="7">223</text></g>
<g id="n224" class="G" transform="translate(37 294)"><circle r="24"/><text y="7">224</text></g>
<g id="n225" class="G" transform="translate(180 286)"><circle r="24"/><text y="7">225</text></g>
<g id="n226" class="G" transform="translate(1242 285)"><circle r="24"/><text y="7">226</text></g>
<g id="n227" class="G" transform="translate(99 263)"><circle r="24"/><text y="7">227</text></g>
<g id="n228" class="M" transform="translate(243 263)"><circle r="24"/><text y="7">228</text></g>
<g id="n229" class="C" transform="translate(308 263)"><circle r="24"/><text y="7">229</text></g>
<g id="n230" class="G" transform="translate(1153 261)"><circle r="24"/><text y="7">230</text></g>
<g id="n231" class="Y" transform="translate(766 261)"><circle r="24"/><text y="7">231</text></g>
<g id="n232" class="O" transform="translate(830 261)"><circle r="24"/><text y="7">232</text></g>
<g id="n233" class="O" transform="translate(895 261)"><circle r="24"/><text y="7">233</text></g>
<g id="n234" class="O" transform="translate(960 261)"><circle r="24"/><text y="7">234</text></g>
<g id="n235" class="O" transform="translate(1024 261)"><circle r="24"/><text y="7">235</text></g>
<g id="n236" class="Y" transform="translate(1088 261)"><circle r="24"/><text y="7">236</text></g>
<g id="n237" class="L" transform="translate(375 261)"><circle r="24"/><text y="7">237</text></g>
<g id="n238" class="L" transform="translate(701 261)"><circle r="24"/><text y="7">238</text></g>
<g id="n239" class="L" transform="translate(440 261)"><circle r="24"/><text y="7">239</text></g>
<g id="n240" class="L" transform="translate(635 261)"><circle r="24"/><text y="7">240</text></g>
<g id="n241" class="L" transform="translate(570 261)"><circle r="24"/><text y="7">241</text></g>
<g id="n242" class="L" transform="translate(505 261)"><circle r="24"/><text y="7">242</text></g>
<g id="n243" class="G" transform="translate(1303 256)"><circle r="24"/><text y="7">243</text></g>
<g id="n244" class="L" transform="translate(43 229)"><circle r="24"/><text y="7">244</text></g>
<g id="n245" class="L" transform="translate(152 228)"><circle r="24"/><text y="7">245</text></g>
<g id="n246" class="L" transform="translate(1248 220)"><circle r="24"/><text y="7">246</text></g>
<g id="n247" class="G" transform="translate(277 205)"><circle r="24"/><text y="7">247</text></g>
<g id="n248" class="G" transform="translate(213 205)"><circle r="24"/><text y="7">248</text></g>
<g id="n249" class="Y" transform="translate(733 205)"><circle r="24"/><text y="7">249</text></g>
<g id="n250" class="O" transform="translate(798 205)"><circle r="24"/><text y="7">250</text></g>
<g id="n251" class="O" transform="translate(863 205)"><circle r="24"/><text y="7">251</text></g>
<g id="n252" class="O" transform="translate(927 205)"><circle r="24"/><text y="7">252</text></g>
<g id="n253" class="O" transform="translate(992 205)"><circle r="24"/><text y="7">253</text></g>
<g id="n254" class="O" transform="translate(1056 205)"><circle r="24"/><text y="7">254</text></g>
<g id="n255" class="Y" transform="translate(1121 205)"><circle r="24"/><text y="7">255</text></g>
<g id="n256" class="L" transform="translate(1186 205)"><circle r="24"/><text y="7">256</text></g>
<g id="n257" class="L" transform="translate(342 205)"><circle r="24"/><text y="7">257</text></g>
<g id="n258" class="L" transform="translate(407 205)"><circle r="24"/><text y="7">258</text></g>
<g id="n259" class="L" transform="translate(668 205)"><circle r="24"/><text y="7">259</text></g>
<g id="n260" class="L" transform="translate(473 205)"><circle r="24"/><text y="7">260</text></g>
<g id="n261" class="L" transform="translate(603 205)"><circle r="24"/><text y="7">261</text></g>
<g id="n262" class="L" transform="translate(538 205)"><circle r="24"/><text y="7">262</text></g>
<g id="n263" class="G" transform="translate(97 193)"><circle r="24"/><text y="7">263</text></g>
<g id="n264" class="L" transform="translate(1306 192)"><circle r="24"/><text y="7">264</text></g>
<g id="n265" class="G" transform="translate(37 165)"><circle r="24"/><text y="7">265</text></g>
<g id="n266" class="M" transform="translate(1220 150)"><circle r="24"/><text y="7">266</text></g>
<g id="n267" class="M" transform="translate(179 150)"><circle r="24"/><text y="7">267</text></g>
<g id="n268" class="L" transform="translate(246 149)"><circle r="24"/><text y="7">268</text></g>
<g id="n269" class="L" transform="translate(310 149)"><circle r="24"/><text y="7">269</text></g>
<g id="n270" class="Y" transform="translate(701 149)"><circle r="24"/><text y="7">270</text></g>
<g id="n271" class="O" transform="translate(766 149)"><circle r="24"/><text y="7">271</text></g>
<g id="n272" class="O" transform="translate(830 149)"><circle r="24"/><text y="7">272</text></g>
<g id="n273" class="O" transform="translate(895 149)"><circle r="24"/><text y="7">273</text></g>
<g id="n274" class="O" transform="translate(960 149)"><circle r="24"/><text y="7">274</text></g>
<g id="n275" class="O" transform="translate(1024 149)"><circle r="24"/><text y="7">275</text></g>
<g id="n276" class="O" transform="translate(1088 149)"><circle r="24"/><text y="7">276</text></g>
<g id="n277" class="Y" transform="translate(1153 149)"><circle r="24"/><text y="7">277</text></g>
<g id="n278" class="L" transform="translate(375 149)"><circle r="24"/><text y="7">278</text></g>
<g id="n279" class="L" transform="translate(439 149)"><circle r="24"/><text y="7">279</text></g>
<g id="n280" class="L" transform="translate(636 149)"><circle r="24"/><text y="7">280</text></g>
<g id="n281" class="L" transform="translate(505 148)"><circle r="24"/><text y="7">281</text></g>
<g id="n282" class="L" transform="translate(571 148)"><circle r="24"/><text y="7">282</text></g>
<g id="n283" class="G" transform="translate(95 129)"><circle r="24"/><text y="7">283</text></g>
<g id="n284" class="G" transform="translate(1306 126)"><circle r="24"/><text y="7">284</text></g>
<g id="n285" class="L" transform="translate(37 100)"><circle r="24"/><text y="7">285</text></g>
<g id="n286" class="L" transform="translate(148 93)"><circle r="24"/><text y="7">286</text></g>
<g id="n287" class="Y" transform="translate(213 93)"><circle r="24"/><text y="7">287</text></g>
<g id="n288" class="O" transform="translate(278 93)"><circle r="24"/><text y="7">288</text></g>
<g id="n289" class="Y" transform="translate(343 93)"><circle r="24"/><text y="7">289</text></g>
<g id="n290" class="Y" transform="translate(668 93)"><circle r="24"/><text y="7">290</text></g>
<g id="n291" class="O" transform="translate(733 93)"><circle r="24"/><text y="7">291</text></g>
<g id="n292" class="O" transform="translate(798 93)"><circle r="24"/><text y="7">292</text></g>
<g id="n293" class="O" transform="translate(863 93)"><circle r="24"/><text y="7">293</text></g>
<g id="n294" class="O" transform="translate(927 93)"><circle r="24"/><text y="7">294</text></g>
<g id="n295" class="O" transform="translate(992 93)"><circle r="24"/><text y="7">295</text></g>
<g id="n296" class="O" transform="translate(1056 93)"><circle r="24"/><text y="7">296</text></g>
<g id="n297" class="O" transform="translate(1121 93)"><circle r="24"/><text y="7">297</text></g>
<g id="n298" class="Y" transform="translate(1186 93)"><circle r="24"/><text y="7">298</text></g>
<g id="n299" class="G" transform="translate(1251 93)"><circle r="24"/><text y="7">299</text></g>
<g id="n300" class="L" transform="translate(407 93)"><circle r="24"/><text y="7">300</text></g>
<g id="n301" class="L" transform="translate(472 93)"><circle r="24"/><text y="7">301</text></g>
<g id="n302" class="L" transform="translate(603 93)"><circle r="24"/><text y="7">302</text></g>
<g id="n303" class="L" transform="translate(537 93)"><circle r="24"/><text y="7">303</text></g>
<g id="n304" class="M" transform="translate(1283 37)"><circle r="24"/><text y="7">304</text></g>
<g id="n305" class="G" transform="translate(52 37)"><circle r="24"/><text y="7">305</text></g>
<g id="n306" class="L" transform="translate(117 37)"><circle r="24"/><text y="7">306</text></g>
<g id="n307" class="Y" transform="translate(181 37)"><circle r="24"/><text y="7">307</text></g>
<g id="n308" class="Y" transform="translate(246 37)"><circle r="24"/><text y="7">308</text></g>
<g id="n309" class="Y" transform="translate(311 37)"><circle r="24"/><text y="7">309</text></g>
<g id="n310" class="L" transform="translate(375 37)"><circle r="24"/><text y="7">310</text></g>
<g id="n311" class="G" transform="translate(440 37)"><circle r="24"/><text y="7">311</text></g>
<g id="n312" class="G" transform="translate(504 37)"><circle r="24"/><text y="7">312</text></g>
<g id="n313" class="G" transform="translate(571 37)"><circle r="24"/><text y="7">313</text></g>
<g id="n314" class="L" transform="translate(637 37)"><circle r="24"/><text y="7">314</text></g>
<g id="n315" class="Y" transform="translate(702 37)"><circle r="24"/><text y="7">315</text></g>
<g id="n316" class="Y" transform="translate(766 37)"><circle r="24"/><text y="7">316</text></g>
<g id="n317" class="Y" transform="translate(831 37)"><circle r="24"/><text y="7">317</text></g>
<g id="n318" class="Y" transform="translate(895 37)"><circle r="24"/><text y="7">318</text></g>
<g id="n319" class="Y" transform="translate(960 37)"><circle r="24"/><text y="7">319</text></g>
<g id="n320" class="Y" transform="translate(1025 37)"><circle r="24"/><text y="7">320</text></g>
<g id="n321" class="Y" transform="translate(1089 37)"><circle r="24"/><text y="7">321</text></g>
<g id="n322" class="Y" transform="translate(1154 37)"><circle r="24"/><text y="7">322</text></g>
<g id="n323" class="L" transform="translate(1218 37)"><circle r="24"/><text y="7">323</text></g>
</g>
</svg>
